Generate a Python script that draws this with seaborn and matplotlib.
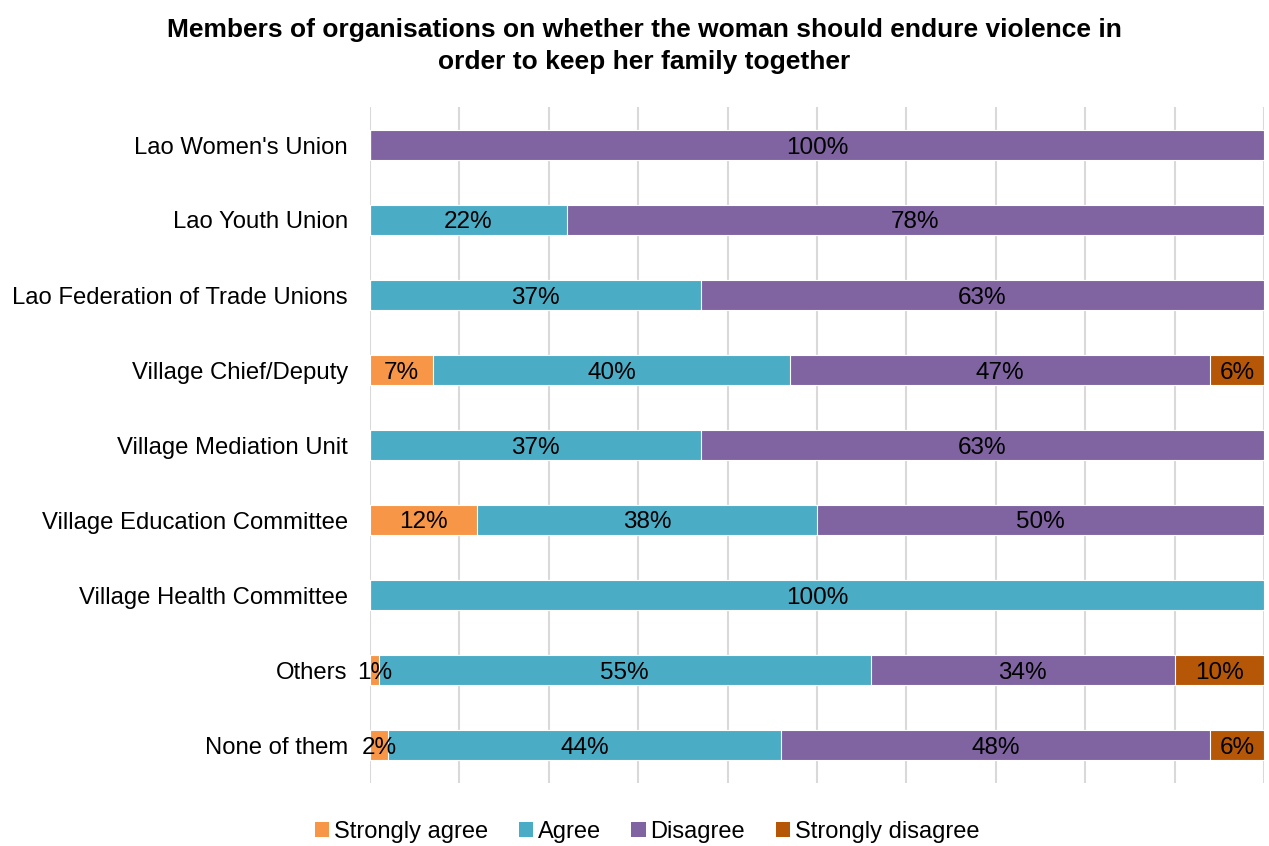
import matplotlib
matplotlib.use("Agg")
import matplotlib.pyplot as plt
import seaborn as sns
import pandas as pd
import numpy as np
from matplotlib.patches import Patch

categories = ["Lao Women's Union", "Lao Youth Union", "Lao Federation of Trade Unions",
              "Village Chief/Deputy", "Village Mediation Unit", "Village Education Committee",
              "Village Health Committee", "Others", "None of them"]
strongly_agree = [0, 0, 0, 7, 0, 12, 0, 1, 2]
agree = [0, 22, 37, 40, 37, 38, 100, 55, 44]
disagree = [100, 78, 63, 47, 63, 50, 0, 34, 48]
strongly_disagree = [0, 0, 0, 6, 0, 0, 0, 10, 6]

series_names = ["Strongly agree", "Agree", "Disagree", "Strongly disagree"]
colors = ["#F79646", "#4BACC6", "#8064A2", "#B65708"]
title = "Members of organisations on whether the woman should endure violence in\norder to keep her family together"

sns.set_theme(style="white")
plt.rcParams['font.family'] = ['Liberation Sans', 'DejaVu Sans']
plt.rcParams['text.color'] = 'black'

vals = np.array([strongly_agree, agree, disagree, strongly_disagree], dtype=float)
cum = np.cumsum(vals, axis=0)

fig = plt.figure(figsize=(12.69, 8.46), dpi=100)
ax = fig.add_axes([370/1269, 1-782.5/846, 894/1269, 675/846])

# overlay cumulative bars from last to first
for i in range(3, -1, -1):
    df = pd.DataFrame({"cat": categories, "val": cum[i]})
    sns.barplot(data=df, x="val", y="cat", orient="h", color=colors[i],
                width=0.4, ax=ax, saturation=1, edgecolor="white", linewidth=0.8,
                order=categories)

# data labels
for i in range(4):
    for j, cat in enumerate(categories):
        v = vals[i][j]
        if v > 0:
            xc = cum[i][j] - v / 2
            ax.text(xc, j, f"{int(v)}%", ha="center", va="center_baseline",
                    fontsize=17.5, color="black")

ax.set_xlim(0, 100)
ax.set_ylim(8.5, -0.5)
ax.set_xticks(np.arange(0, 101, 10))
ax.set_xticklabels([])
ax.grid(axis="x", color="#D9D9D9", linewidth=1.5)
ax.set_axisbelow(True)
for s in ax.spines.values():
    s.set_visible(False)
ax.set_xlabel("")
ax.set_ylabel("")
ax.tick_params(axis="y", labelsize=17.2, length=0, pad=16, colors="black")
ax.tick_params(axis="x", length=0)

fig.text(644/1269, 1-46/846, title, ha="center", va="center", fontsize=19,
         fontweight="bold", linespacing=1.37, color="black")

handles = [Patch(facecolor=c, edgecolor="none") for c in colors]
fig.legend(handles, series_names, loc="center", bbox_to_anchor=(647/1269, 1-832/846),
           ncol=4, frameon=False, fontsize=17, handlelength=0.6, handleheight=0.6,
           handletextpad=0.2, columnspacing=1.3)

fig.savefig("out.png", dpi=100)
